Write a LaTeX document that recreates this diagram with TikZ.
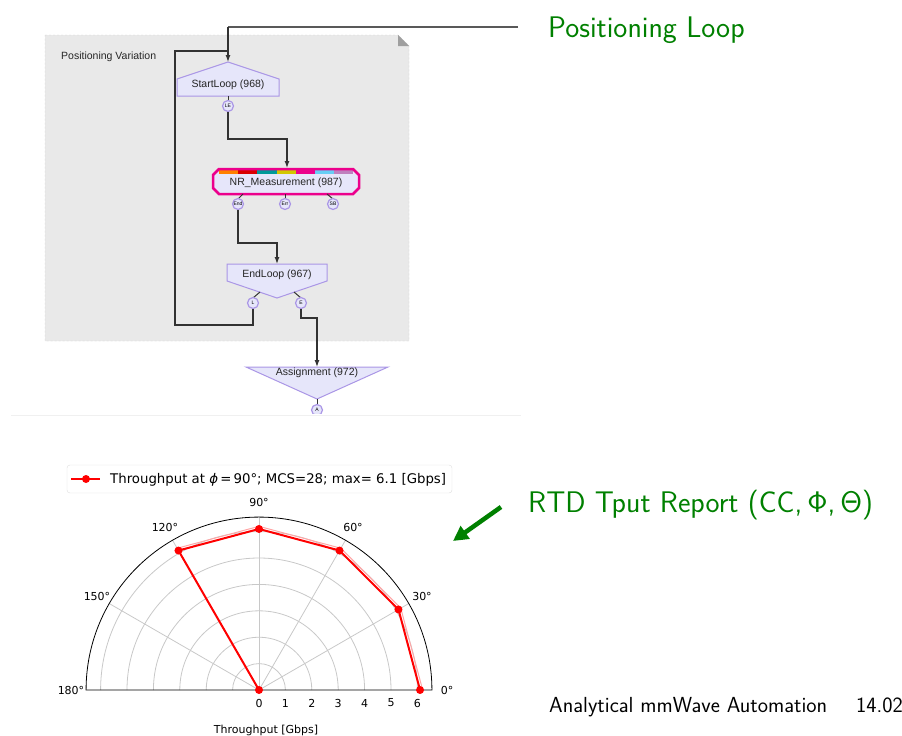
\documentclass[tikz,border=0pt]{standalone}
\usepackage{fontspec}
\newfontfamily\mplfont{DejaVu Sans}
\newfontfamily\diagfont{Liberation Sans}
\usetikzlibrary{arrows.meta,calc}
\definecolor{beamergreen}{RGB}{0,128,0}
\definecolor{panelgray}{RGB}{233,233,233}
\definecolor{paneledge}{RGB}{205,205,205}
\definecolor{lav}{RGB}{230,230,250}
\definecolor{lavedge}{RGB}{170,150,230}
\definecolor{gridgray}{RGB}{200,200,200}
\definecolor{connline}{RGB}{50,50,50}
\begin{document}
\begin{tikzpicture}[x=1pt,y=-1pt,
  dtext/.style={font=\diagfont\fontsize{10.5}{12}\selectfont, inner sep=0pt, text=black!85},
  shapebox/.style={draw=lavedge, fill=lav, line width=1pt},
  port/.style={circle, draw=lavedge, fill=lav, line width=1.2pt, inner sep=0pt, minimum size=11pt,
    font=\diagfont\fontsize{5}{5}\selectfont},
  conn/.style={draw=connline, line width=1.2pt},
  connarrow/.style={conn, -{Latex[length=7pt,width=5pt]}},
  stub/.style={draw=connline, line width=1pt},
  mpl/.style={font=\mplfont\fontsize{11}{12}\selectfont, inner sep=0pt},
  bigtext/.style={font=\sffamily\fontsize{29.8}{34}\selectfont, inner sep=0pt, anchor=base west},
  foottext/.style={font=\sffamily\fontsize{21.8}{26}\selectfont, inner sep=0pt, anchor=base west},
  gridline/.style={draw=gridgray, line width=0.8pt}
]
\useasboundingbox (0,0) rectangle (902,736);

% ---------- panel ----------
\draw[draw=paneledge, fill=panelgray, dash pattern=on 2pt off 2pt]
  (45,35) -- (398,35) -- (409,46) -- (409,341) -- (45,341) -- cycle;
\fill[gray!75] (398,35) -- (398,46) -- (409,46) -- cycle;
\node[dtext, anchor=west] (pv) at (61,57) {Positioning Variation};

% ---------- StartLoop ----------
\draw[shapebox] (177,79) -- (228,62) -- (279,79) -- (279,96) -- (177,96) -- cycle;
\node[dtext] (startloop) at (228,85) {StartLoop (968)};
\coordinate (startTop) at (228,62);
\coordinate (startBot) at (228,96);

% ---------- NR_Measurement ----------
\fill[lav] (219,169) -- (353,169) -- (359,175) -- (359,188) -- (353,194) -- (219,194) -- (213,188) -- (213,175) -- cycle;
\foreach \c [count=\i from 0] in {orange,red!85!black,teal!80!cyan,yellow!60!olive,magenta,cyan!60,violet!50} {
  \fill[\c] ({219+\i*19.2},170) rectangle ({219+(\i+1)*19.2},173.5);
}
\draw[magenta, line width=2.5pt] (219,169) -- (353,169) -- (359,175) -- (359,188) -- (353,194) -- (219,194) -- (213,188) -- (213,175) -- cycle;
\node[dtext] (nr) at (286,183) {NR\_Measurement (987)};
\coordinate (nrTop) at (287,168);

% ---------- EndLoop ----------
\draw[shapebox] (227,264) -- (327,264) -- (327,281) -- (277,298) -- (227,281) -- cycle;
\node[dtext] (endloop) at (277,275) {EndLoop (967)};
\coordinate (elTop) at (277,264);

% ---------- Assignment ----------
\draw[shapebox] (246,367) -- (388,367) -- (317,399) -- cycle;
\node[dtext] (assign) at (317,373) {Assignment (972)};
\coordinate (asTop) at (317,367);

% ---------- ports ----------
\draw[stub] (startBot) -- (228,101);
\node[port] (LE) at (228,106) {LE};
\draw[stub] (243,194) -- (238,199);
\draw[stub] (285,194) -- (285,199);
\draw[stub] (327,194) -- (333,199);
\node[port] (End) at (238,204) {End};
\node[port] (Err) at (285,204) {Err};
\node[port] (SB) at (333,204) {SB};
\draw[stub] (260,292) -- (253,298);
\draw[stub] (294,292) -- (301,298);
\node[port] (L) at (253,303) {L};
\node[port] (E) at (301,303) {E};
\begin{scope}
  \clip (0,0) rectangle (902,413);
  \draw[stub] (317,399) -- (317,405);
  \node[port] (A) at (317,410) {A};
\end{scope}
\draw[draw=gray!12, line width=1pt] (11,415) -- (521,415);

% ---------- connectors ----------
\coordinate (plend) at (518,27);
\draw[draw=gray!70!black, line width=1.2pt] (plend) -- (228,27);
\draw[connarrow] (228,27) -- (startTop);
\draw[conn] (L.south) |- (175,325) |- (228,51);
\draw[connarrow] (LE.south) |- (260,139) -| (nrTop);
\draw[connarrow] (End.south) |- (260,243) -| (elTop);
\draw[connarrow] (E.south) |- (310,318) -| (asTop);

\node[bigtext, text=beamergreen] (posloop) at (548,37) {Positioning Loop};

% ---------- polar plot ----------
\draw[rounded corners=3pt, draw=gray!25, fill=white] (67,465) rectangle (452,493);
\draw[red, line width=2pt] (71,479) -- (100,479);
\fill[red] (86,479) circle (4pt);
\node[mpl, anchor=base west, font=\mplfont\fontsize{13.3}{14}\selectfont] (legend) at (110,483)
  {Throughput at {\itshape ϕ}\,=\,90°; MCS=28; max= 6.1 [Gbps]};

\begin{scope}[shift={(259,690)}, x=26.4pt, y=26.4pt]
  \foreach \r in {1,...,6} \draw[gridline] (\r,0) arc (0:180:\r);
  \foreach \a in {30,60,90,120,150} \draw[gridline] (0,0) -- (\a:6.55);
  \draw[black, line width=0.8pt] (6.55,0) arc (0:180:6.55) -- cycle;
  \draw[red!35, line width=1pt] (0:6.2) -- (30:6.2) -- (60:6.2) -- (90:6.2) -- (120:6.2);
  \draw[red, line width=2pt, line join=round] (0:6.1) -- (30:6.1) -- (60:6.1) -- (90:6.1) -- (120:6.1) -- (0,0);
  \foreach \a in {0,30,60,90,120} \fill[red] (\a:6.1) circle (4pt);
  \fill[red] (0,0) circle (4pt);
\end{scope}

\node[mpl] (t0) at (447,690) {0°};
\node[mpl] (t30) at (422,596) {30°};
\node[mpl] (t60) at (353,527) {60°};
\node[mpl] (t90) at (259,502) {90°};
\node[mpl] (t120) at (165,527) {120°};
\node[mpl] (t150) at (97,596) {150°};
\node[mpl] (t180) at (71,690) {180°};
\foreach \r in {0,...,6} \node[mpl] at ({259+26.4*\r},703) {\r};
\node[mpl] (xlabel) at (266,730) {Throughput [Gbps]};

% ---------- green arrow + text ----------
\coordinate (gaS) at (501,507);
\coordinate (gaE) at (453,541);
\draw[beamergreen, line width=4.5pt, -{Triangle[length=15pt,width=15pt]}] (gaS) -- (gaE);
\node[bigtext, text=beamergreen] (rtd) at (528,512) {RTD Tput Report (CC,\,Φ,\,Θ)};

% ---------- footer ----------
\node[foottext] (foot) at (549,712) {Analytical mmWave Automation};
\node[foottext] (date) at (856,712) {14.02};
\end{tikzpicture}
\end{document}
